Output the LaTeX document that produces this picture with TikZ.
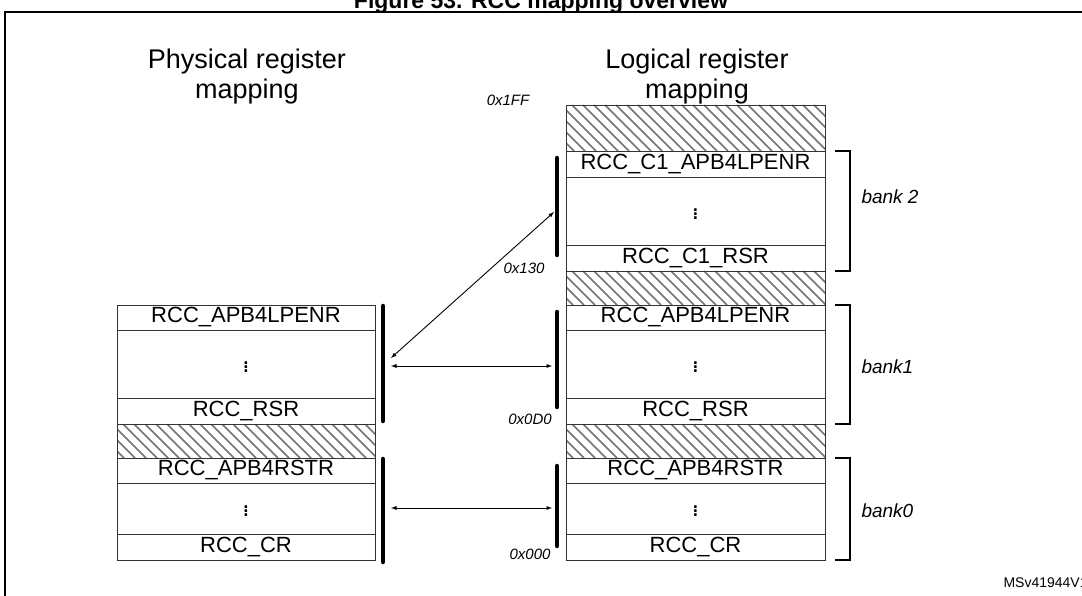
\documentclass[tikz,border=0pt]{standalone}
\usepackage{fontspec}
\setmainfont{Liberation Sans}
\begin{document}
\begin{tikzpicture}[x=1pt,y=-1pt,
 reg/.style={draw=black!80,line width=0.8pt},
 rt/.style={font=\fontsize{22}{22}\selectfont},
 dt/.style={font=\fontsize{26}{26}\selectfont},
 bar/.style={line width=4.5pt,line cap=round},
 arr/.style={<->,>=latex,line width=0.9pt},
 addr/.style={font=\itshape\fontsize{15}{15}\selectfont},
 bl/.style={font=\itshape\fontsize{19}{19}\selectfont,anchor=west}]
\useasboundingbox (0,0) rectangle (1082,596);
\node[font=\bfseries\fontsize{23}{23}\selectfont] (title) at (541,3) {Figure 53. RCC mapping overview};
\draw[line width=1.6pt] (5,600) -- (5,12) -- (1090,12);
\node[font=\fontsize{27}{30}\selectfont,align=center] (ph) at (247,77) {Physical register\\mapping};
\node[font=\fontsize{27}{30}\selectfont,align=center] (lo) at (697,77) {Logical register\\mapping};
\newcommand{\hatchbox}[4]{%
 \begin{scope}\clip (#1,#2) rectangle (#3,#4);
 \foreach \i in {-60,-49,...,300}{\draw[black!55,line width=1.6pt] (#1+\i,#2) -- ++(#4-#2,#4-#2);}
 \end{scope}\draw[reg] (#1,#2) rectangle (#3,#4);}
% left column
\draw[reg] (117,305) rectangle (375,330) node[midway,rt] (l1) {RCC\_APB4LPENR};
\draw[reg] (117,330) rectangle (375,398) node[midway,dt] (l2) {$\vdots$};
\draw[reg] (117,398) rectangle (375,424) node[midway,rt] (l3) {RCC\_RSR};
\hatchbox{117}{424}{375}{458}
\draw[reg] (117,458) rectangle (375,483) node[midway,rt] (l4) {RCC\_APB4RSTR};
\draw[reg] (117,483) rectangle (375,534) node[midway,dt] (l5) {$\vdots$};
\draw[reg] (117,534) rectangle (375,560) node[midway,rt] (l6) {RCC\_CR};
% right column
\hatchbox{566}{105}{825}{151}
\draw[reg] (566,151) rectangle (825,177) node[midway,rt] (r1) {RCC\_C1\_APB4LPENR};
\draw[reg] (566,177) rectangle (825,245) node[midway,dt] (r2) {$\vdots$};
\draw[reg] (566,245) rectangle (825,271) node[midway,rt] (r3) {RCC\_C1\_RSR};
\hatchbox{566}{271}{825}{305}
\draw[reg] (566,305) rectangle (825,330) node[midway,rt] (r4) {RCC\_APB4LPENR};
\draw[reg] (566,330) rectangle (825,398) node[midway,dt] (r5) {$\vdots$};
\draw[reg] (566,398) rectangle (825,424) node[midway,rt] (r6) {RCC\_RSR};
\hatchbox{566}{424}{825}{458}
\draw[reg] (566,458) rectangle (825,483) node[midway,rt] (r7) {RCC\_APB4RSTR};
\draw[reg] (566,483) rectangle (825,534) node[midway,dt] (r8) {$\vdots$};
\draw[reg] (566,534) rectangle (825,560) node[midway,rt] (r9) {RCC\_CR};
% bars
\draw[bar] (383,306) -- (383,421);
\draw[bar] (383,459) -- (383,562);
\draw[bar] (557,158) -- (557,255);
\draw[bar] (557,312) -- (557,407);
\draw[bar] (557,466) -- (557,546);
% arrows
\coordinate (a1) at (391,358); \coordinate (b1) at (554,212);
\coordinate (a2) at (391,366); \coordinate (b2) at (552,366);
\coordinate (a3) at (391,508); \coordinate (b3) at (552,508);
\draw[arr] (a1) -- (b1);
\draw[arr] (a2) -- (b2);
\draw[arr] (a3) -- (b3);
% addresses
\node[addr] (x1) at (508,100) {0x1FF};
\node[addr] (x2) at (524,268) {0x130};
\node[addr] (x3) at (530,419) {0x0D0};
\node[addr] (x4) at (530,554) {0x000};
% braces
\draw[line width=1.6pt] (835,151) -- (850,151) -- (850,271) -- (835,271);
\draw[line width=1.6pt] (835,305) -- (850,305) -- (850,424) -- (835,424);
\draw[line width=1.6pt] (835,458) -- (850,458) -- (850,560) -- (835,560);
\node[bl] (k2) at (858,197) {bank 2};
\node[bl] (k1) at (858,367) {bank1};
\node[bl] (k0) at (858,511) {bank0};
\node[font=\fontsize{14}{14}\selectfont,anchor=west] (ms) at (1000,583) {MSv41944V1};
\end{tikzpicture}
\end{document}
